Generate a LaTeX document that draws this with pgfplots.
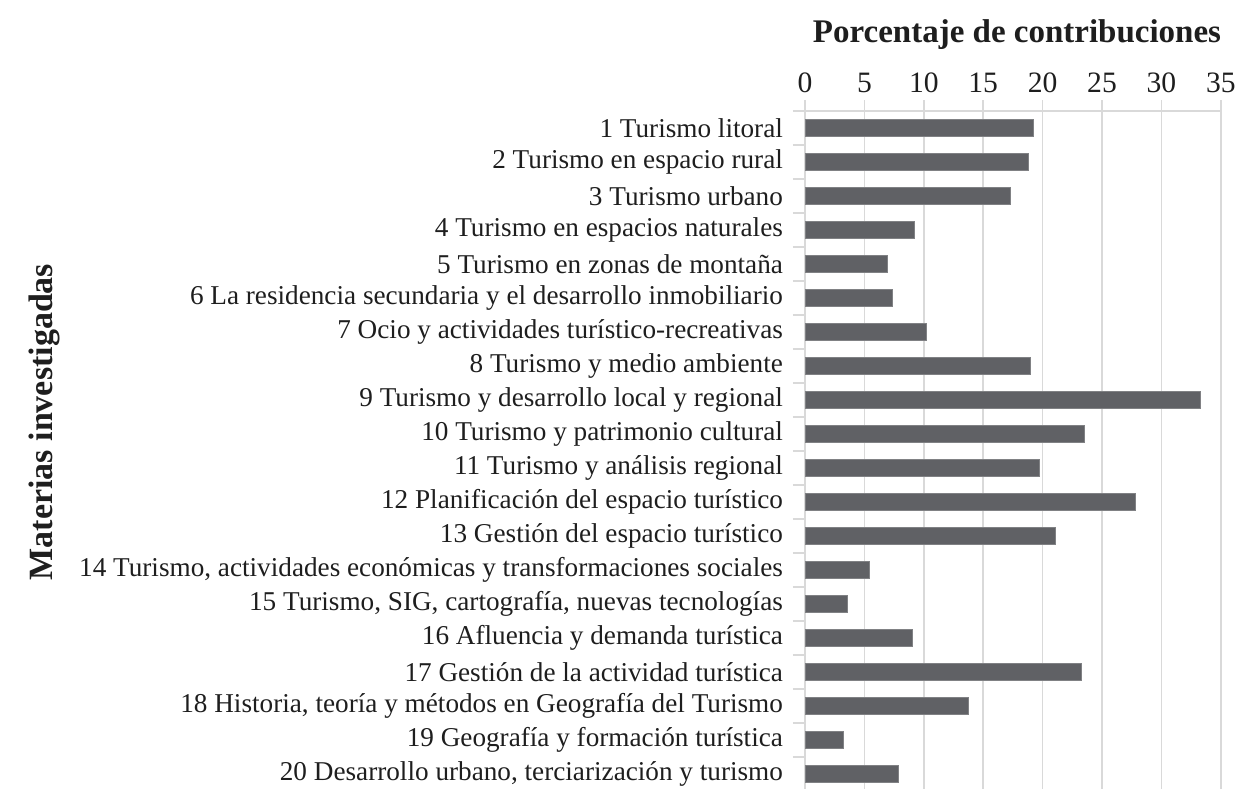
\documentclass[border=0pt]{standalone}
\usepackage{fontspec}
\setmainfont{Liberation Serif}
\usepackage{pgfplots}
\pgfplotsset{compat=1.18}
\definecolor{barcol}{RGB}{96,97,101}
\definecolor{gridcol}{RGB}{217,217,217}
\definecolor{txtcol}{RGB}{30,30,30}

\begin{document}
\begin{tikzpicture}
\path[use as bounding box] (0,0) rectangle (618pt,-394pt);
\begin{axis}[
    at={(402.5pt,-395.5pt)}, anchor=south west,
    width=207.9pt, height=340pt, scale only axis,
    xbar, bar width=0.49,
    xmin=0, xmax=35, ymin=0.5, ymax=20.5,
    axis x line*=top, axis y line*=left,
    axis line style={-, draw=gridcol, line width=0.8pt},
    xtick={0,5,...,35},
    xmajorgrids, grid style={gridcol, line width=0.8pt},
    tick align=outside,
    major tick length=5.5pt, minor tick length=6pt,
    major x tick style={draw=gridcol, line width=0.8pt},
    major y tick style={draw=none},
    minor y tick style={draw=gridcol, line width=0.8pt},
    ytick={1,...,20},
    minor ytick={0.5,1.5,...,20.5},
    yticklabels={
        {20 Desarrollo urbano, terciarización y turismo},
        {19 Geografía y formación turística},
        {18 Historia, teoría y métodos en Geografía del Turismo},
        {17 Gestión de la actividad turística},
        {16 Afluencia y demanda turística},
        {15 Turismo, SIG, cartografía, nuevas tecnologías},
        {14 Turismo, actividades económicas y transformaciones sociales},
        {13 Gestión del espacio turístico},
        {12 Planificación del espacio turístico},
        {11 Turismo y análisis regional},
        {10 Turismo y patrimonio cultural},
        {9 Turismo y desarrollo local y regional},
        {8 Turismo y medio ambiente},
        {7 Ocio y actividades turístico-recreativas},
        {6 La residencia secundaria y el desarrollo inmobiliario},
        {5 Turismo en zonas de montaña},
        {4 Turismo en espacios naturales},
        {3 Turismo urbano},
        {2 Turismo en espacio rural},
        {1 Turismo litoral}},
    yticklabel style={font=\fontsize{13.6}{16}\selectfont, text=txtcol, xshift=-2pt},
    xticklabel style={font=\fontsize{14.8}{17}\selectfont, text=txtcol},
    /pgf/number format/assume math mode=true,
]
\addplot[fill=barcol, draw=barcol!80!white, line width=0.4pt] coordinates {
    (7.9,1) (3.2,2) (13.75,3) (23.3,4) (9.0,5) (3.6,6) (5.45,7)
    (21.1,8) (27.8,9) (19.7,10) (23.5,11) (33.3,12) (19.0,13)
    (10.2,14) (7.35,15) (6.95,16) (9.25,17) (17.3,18) (18.8,19) (19.2,20)
};
\end{axis}
\node[anchor=base, text=txtcol, font=\bfseries\fontsize{16.5}{19}\selectfont] at (508.5pt,-21pt) {Porcentaje de contribuciones};
\node[rotate=90, text=txtcol, font=\bfseries\fontsize{17}{20}\selectfont] at (22pt,-211pt) {Materias investigadas};
\end{tikzpicture}
\end{document}
